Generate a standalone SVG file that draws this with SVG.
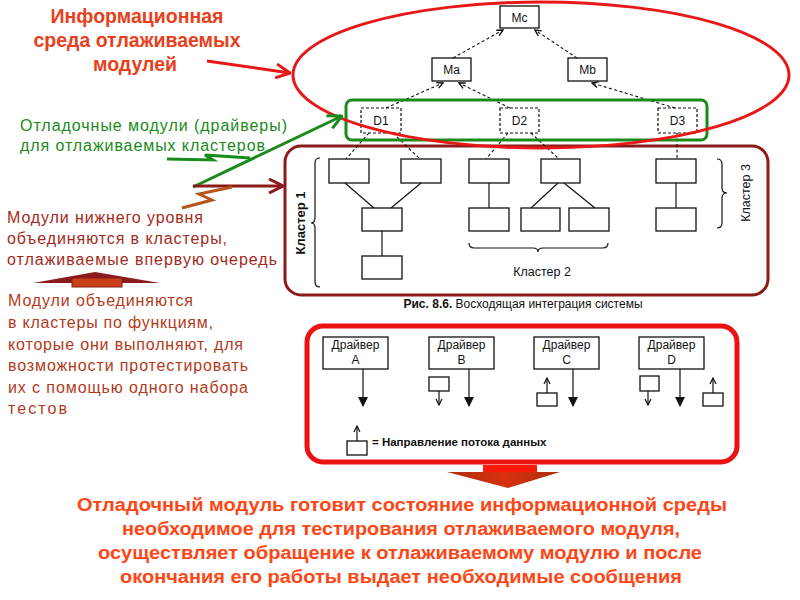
<svg xmlns="http://www.w3.org/2000/svg" width="800" height="600" viewBox="0 0 800 600">
<style>
  .box{fill:#fff;stroke:#111;stroke-width:1.3}
  .dbox{fill:#fff;stroke:#111;stroke-width:1.2;stroke-dasharray:3,2}
  .ln{stroke:#111;stroke-width:1.2;fill:none}
  .dash{stroke:#111;stroke-width:1.1;fill:none;stroke-dasharray:3,2.5}
  .lbl{font-family:"Liberation Sans",Arial,sans-serif;font-size:12px;fill:#111;text-anchor:middle}
  .title{font-family:"Liberation Sans",Arial,sans-serif;font-weight:bold;font-size:19.5px;fill:#e8401a;text-anchor:middle}
  .green{font-family:"Liberation Sans",Arial,sans-serif;font-size:16px;fill:#1a8a1a}
  .dred{font-family:"Liberation Sans",Arial,sans-serif;font-size:16px;fill:#a52a1a}
  .bottom{font-family:"Liberation Sans",Arial,sans-serif;font-weight:bold;font-size:17.5px;fill:#ff4514;text-anchor:middle}
</style>
<defs>
  <marker id="openHead" viewBox="0 0 8 8" refX="7" refY="4" markerWidth="8" markerHeight="8" markerUnits="userSpaceOnUse" orient="auto">
    <path d="M1,1 L7,4 L1,7" fill="none" stroke="#111" stroke-width="1.4"/>
  </marker>
  <marker id="solidHead" viewBox="0 0 10 12" refX="9" refY="5" markerWidth="10" markerHeight="12" markerUnits="userSpaceOnUse" orient="auto">
    <path d="M0,0 L10,5 L0,10 Z" fill="#111"/>
  </marker>
  <marker id="smallHead" viewBox="0 0 8 8" refX="7" refY="4" markerWidth="8" markerHeight="8" markerUnits="userSpaceOnUse" orient="auto">
    <path d="M1,1 L7,4 L1,7" fill="none" stroke="#111" stroke-width="1.2"/>
  </marker>
  <marker id="redHead" viewBox="0 0 16 16" refX="15" refY="8" markerWidth="16" markerHeight="16" markerUnits="userSpaceOnUse" orient="auto">
    <path d="M1,1 L15,8 L1,15" fill="none" stroke="#e81818" stroke-width="3"/>
  </marker>
  <marker id="greenHead" viewBox="0 0 16 16" refX="15" refY="8" markerWidth="16" markerHeight="16" markerUnits="userSpaceOnUse" orient="auto">
    <path d="M1,1 L15,8 L1,15" fill="none" stroke="#1a8a1a" stroke-width="3"/>
  </marker>
  <marker id="dredHead" viewBox="0 0 16 16" refX="15" refY="8" markerWidth="16" markerHeight="16" markerUnits="userSpaceOnUse" orient="auto">
    <path d="M1,1 L15,8 L1,15" fill="none" stroke="#8b1a1a" stroke-width="3"/>
  </marker>
  <linearGradient id="triGrad" x1="0" y1="0" x2="1" y2="0">
    <stop offset="0" stop-color="#a8300c"/>
    <stop offset="0.5" stop-color="#d83010"/>
    <stop offset="1" stop-color="#a8300c"/>
  </linearGradient>
</defs>
<rect width="800" height="600" fill="#fff"/>

<!-- frames -->
<g id="clusterFrame"><rect x="285" y="146" width="483" height="149" rx="16" fill="none" stroke="#8b1a1a" stroke-width="3"/></g>
<g id="driverFrame"><rect x="307" y="326" width="430" height="136" rx="16" fill="none" stroke="#ee1111" stroke-width="5"/></g>

<!-- top tree nodes -->
<g id="Mc"><rect class="box" x="500" y="6" width="39" height="22"/><text class="lbl" x="519.5" y="21.5">Mc</text></g>
<g id="Ma"><rect class="box" x="432" y="58" width="39" height="23"/><text class="lbl" x="451.5" y="74">Ma</text></g>
<g id="Mb"><rect class="box" x="568" y="58" width="39" height="23"/><text class="lbl" x="587.5" y="74">Mb</text></g>
<g id="D1"><rect class="dbox" x="361" y="108" width="40" height="25"/><text class="lbl" x="381" y="125">D1</text></g>
<g id="D2"><rect class="dbox" x="500" y="108" width="39" height="25"/><text class="lbl" x="519.5" y="125">D2</text></g>
<g id="D3"><rect class="dbox" x="658" y="108" width="39" height="25"/><text class="lbl" x="677.5" y="125">D3</text></g>

<!-- cluster 1 -->
<g id="c1a"><rect class="box" x="329" y="159" width="40" height="24"/></g>
<g id="c1b"><rect class="box" x="401" y="159" width="40" height="24"/></g>
<g id="c1c"><rect class="box" x="362" y="208" width="40" height="23"/></g>
<g id="c1d"><rect class="box" x="362" y="256" width="40" height="23"/></g>
<!-- cluster 2 -->
<g id="c2a"><rect class="box" x="469" y="159" width="40" height="24"/></g>
<g id="c2b"><rect class="box" x="541" y="159" width="39" height="24"/></g>
<g id="c2c"><rect class="box" x="469" y="208" width="40" height="23"/></g>
<g id="c2d"><rect class="box" x="521" y="208" width="39" height="23"/></g>
<g id="c2e"><rect class="box" x="569" y="208" width="40" height="23"/></g>
<!-- cluster 3 -->
<g id="c3a"><rect class="box" x="656" y="159" width="40" height="24"/></g>
<g id="c3b"><rect class="box" x="656" y="208" width="40" height="23"/></g>

<g id="clusterLabels">
  <path class="ln" d="M320,158 Q315,158 315,163 L315,218 Q315,223 311,223 Q315,223 315,228 L315,282 Q315,287 320,287"/>
  <text class="lbl" style="font-weight:bold;font-size:13px" transform="translate(305,223) rotate(-90)">Кластер 1</text>
  <path class="ln" d="M469,243 Q469,248 474,248 L533,248 Q538,248 538,252 Q538,248 543,248 L603,248 Q608,248 608,243"/>
  <text class="lbl" style="font-size:12.5px" x="542" y="276">Кластер 2</text>
  <path class="ln" d="M717,159 Q722,159 722,164 L722,188 Q722,193 727,193 Q722,193 722,198 L722,223 Q722,228 717,228"/>
  <text class="lbl" style="font-size:12.5px" transform="translate(750,193) rotate(-90)">Кластер 3</text>
  <text class="lbl" x="523" y="308"><tspan font-weight="bold">Рис. 8.6.</tspan> Восходящая интеграция системы</text>
</g>

<!-- drivers -->
<g id="drvA"><rect class="box" x="323" y="337" width="65" height="32"/><text class="lbl" x="355.5" y="349">Драйвер</text><text class="lbl" x="355.5" y="364">A</text></g>
<g id="drvB"><rect class="box" x="429" y="337" width="65" height="32"/><text class="lbl" x="461.5" y="349">Драйвер</text><text class="lbl" x="461.5" y="364">B</text></g>
<g id="drvC"><rect class="box" x="534" y="337" width="65" height="32"/><text class="lbl" x="566.5" y="349">Драйвер</text><text class="lbl" x="566.5" y="364">C</text></g>
<g id="drvD"><rect class="box" x="639" y="337" width="65" height="32"/><text class="lbl" x="671.5" y="349">Драйвер</text><text class="lbl" x="671.5" y="364">D</text></g>
<g id="smallBoxes">
  <rect class="box" x="429" y="377" width="20" height="14"/>
  <rect class="box" x="537" y="393" width="20" height="13"/>
  <rect class="box" x="640" y="376" width="19" height="15"/>
  <rect class="box" x="703" y="393" width="20" height="13"/>
  <rect class="box" x="347" y="441" width="20" height="14"/>
</g>
<g id="legend"><text class="lbl" style="text-anchor:start;font-weight:bold;font-size:11.5px" x="372" y="446">= Направление потока данных</text></g>

<!-- connectors -->
<g id="connectors">
  <path class="dash" d="M453,58 L503,30" marker-end="url(#openHead)"/>
  <path class="dash" d="M577,58 L535,30" marker-end="url(#openHead)"/>
  <path class="dash" d="M386,108 L443,83" marker-end="url(#openHead)"/>
  <path class="dash" d="M510,108 L459,83" marker-end="url(#openHead)"/>
  <path class="dash" d="M675,108 L592,83" marker-end="url(#openHead)"/>
  <path class="dash" d="M369,133 L346,159"/>
  <path class="dash" d="M393,133 L420,159"/>
  <path class="dash" d="M508,133 L486,159"/>
  <path class="dash" d="M531,133 L559,159"/>
  <path class="dash" d="M677,133 L677,159"/>
  <path class="ln" d="M345,183 L374,208"/>
  <path class="ln" d="M421,183 L391,208"/>
  <path class="ln" d="M382,231 L382,256"/>
  <path class="ln" d="M489,183 L489,208"/>
  <path class="ln" d="M558,183 L531,208"/>
  <path class="ln" d="M564,183 L595,208"/>
  <path class="ln" d="M676,183 L676,208"/>
  <path class="ln" d="M363,369 L363,406" marker-end="url(#solidHead)"/>
  <path class="ln" d="M469,369 L469,406" marker-end="url(#solidHead)"/>
  <path class="ln" d="M573,369 L573,406" marker-end="url(#solidHead)"/>
  <path class="ln" d="M680,369 L680,406" marker-end="url(#solidHead)"/>
  <path class="ln" d="M439,391 L439,405" marker-end="url(#smallHead)"/>
  <path class="ln" d="M547,393 L547,378" marker-end="url(#smallHead)"/>
  <path class="ln" d="M648,391 L648,405" marker-end="url(#smallHead)"/>
  <path class="ln" d="M713,393 L713,378" marker-end="url(#smallHead)"/>
  <path class="ln" d="M357,441 L357,426" marker-end="url(#smallHead)"/>
</g>

<g id="greenFrame"><rect x="346" y="100" width="361" height="40" rx="6" fill="none" stroke="#1a8a1a" stroke-width="3"/></g>
<g id="envEllipse"><ellipse cx="541" cy="75" rx="248" ry="73" fill="none" stroke="#e81818" stroke-width="3"/></g>

<!-- annotations -->
<g id="annotations">
  <text class="title" x="137" y="23">Информационная</text>
  <text class="title" x="137" y="47">среда отлаживаемых</text>
  <text class="title" x="135" y="71">модулей</text>
  <path d="M207,61 L290,73" stroke="#e81818" stroke-width="3" fill="none" marker-end="url(#redHead)"/>

  <text class="green" x="20" y="131" textLength="267" lengthAdjust="spacing">Отладочные модули (драйверы)</text>
  <text class="green" x="20" y="151" textLength="245" lengthAdjust="spacing">для отлаживаемых кластеров</text>
  <path d="M167,159 L213,160 L205,155 L250,158" stroke="#1a8a1a" stroke-width="3" fill="none"/>
  <path d="M193,187 L342,116" stroke="#1a8a1a" stroke-width="3" fill="none" marker-end="url(#greenHead)"/>
  <path d="M193,186 L283,186" stroke="#8b1a1a" stroke-width="3" fill="none" marker-end="url(#dredHead)"/>
  <path d="M182,208 L212,200 L199,194 L232,187" stroke="#b5561a" stroke-width="3" fill="none"/>

  <text class="dred" x="7" y="223" textLength="196" lengthAdjust="spacing">Модули нижнего уровня</text>
  <text class="dred" x="7" y="244" textLength="220" lengthAdjust="spacing">объединяются в кластеры,</text>
  <text class="dred" x="7" y="265" textLength="270" lengthAdjust="spacing">отлаживаемые впервую очередь</text>

  <path d="M33,283 L95,272 L160,283 Z" fill="#8b1a1a"/>
  <rect x="72" y="278" width="50" height="9" fill="#c8401a" stroke="#8b1a1a" stroke-width="1"/>

  <g style="font-family:'Liberation Sans',Arial,sans-serif;font-size:16px;fill:#b33a1a">
    <text x="8" y="306" textLength="185" lengthAdjust="spacing">Модули объединяются</text>
    <text x="8" y="328" textLength="205" lengthAdjust="spacing">в кластеры по функциям,</text>
    <text x="8" y="350" textLength="235" lengthAdjust="spacing">которые они выполняют, для</text>
    <text x="8" y="371" textLength="240" lengthAdjust="spacing">возможности протестировать</text>
    <text x="8" y="393" textLength="240" lengthAdjust="spacing">их с помощью  одного набора</text>
    <text x="8" y="414" textLength="59" lengthAdjust="spacing">тестов</text>
  </g>

  <rect x="483" y="465" width="54" height="8" fill="#ff1a0a"/>
  <path d="M447,472 L560,472 L508,488 Z" fill="url(#triGrad)"/>

  <text class="bottom" x="402" y="511" textLength="650" lengthAdjust="spacingAndGlyphs">Отладочный модуль готовит состояние информационной среды</text>
  <text class="bottom" x="401" y="535" textLength="558" lengthAdjust="spacingAndGlyphs">необходимое для тестирования отлаживаемого модуля,</text>
  <text class="bottom" x="400" y="559" textLength="604" lengthAdjust="spacingAndGlyphs">осуществляет обращение к отлаживаемому модулю и после</text>
  <text class="bottom" x="401" y="583" textLength="562" lengthAdjust="spacingAndGlyphs">окончания его работы выдает необходимые сообщения</text>
</g>
</svg>
